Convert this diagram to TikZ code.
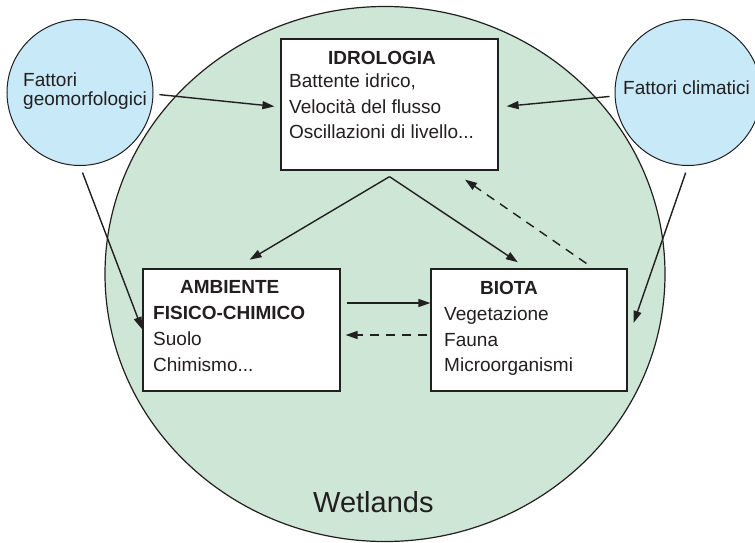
\documentclass[tikz,border=0pt]{standalone}
\usepackage{fontspec}
\setmainfont{Liberation Sans}
\usetikzlibrary{shapes.geometric,arrows.meta}
\definecolor{wet}{HTML}{CDE6D5}
\definecolor{fac}{HTML}{C7E9F8}
\definecolor{ink}{HTML}{231F20}
\begin{document}
\begin{tikzpicture}[x=1pt,y=-1pt,
  box/.style={draw=ink, fill=white, line width=1.3pt, inner sep=0pt},
  bubble/.style={circle, draw=ink, fill=fac, line width=1pt, minimum size=146pt, inner sep=0pt},
  txt/.style={font=\fontsize{19}{22}\selectfont, anchor=base west, inner sep=0pt, text=ink},
  ttl/.style={txt, font=\fontsize{19}{22}\selectfont\bfseries},
  arr/.style={draw=ink, line width=1.4pt, -{Triangle[length=12pt,width=8pt]}},
  dasharr/.style={arr, dash pattern=on 9pt off 7pt}]
\useasboundingbox (0,0) rectangle (755,543);
\clip (0,0) rectangle (755,543);

% big wetland ellipse
\node[ellipse, draw=ink, fill=wet, line width=1.2pt, minimum width=560pt, minimum height=535pt, inner sep=0pt] (wet) at (385,274) {};
\node[anchor=base west, inner sep=0pt, text=ink, font=\fontsize{29}{34}\selectfont] (wl) at (313,512) {Wetlands};

% factor circles
\node[bubble] (geo) at (80,92.5) {};
\node[txt] (geot1) at (23,86) {Fattori};
\node[txt] (geot2) at (23,106) {geomorfologici};
\node[bubble] (clim) at (688,92.5) {};
\node[txt] (climt) at (623,95) {Fattori climatici};

% boxes
\node[box, minimum width=217pt, minimum height=131pt] (idro) at (389.5,104.5) {};
\node[ttl] (idro0) at (328,64) {IDROLOGIA};
\node[txt] (idro1) at (289,88) {Battente idrico,};
\node[txt] (idro2) at (289,113) {Velocità del flusso};
\node[txt] (idro3) at (289,138) {Oscillazioni di livello...};

\node[box, minimum width=197pt, minimum height=122pt] (amb) at (241.5,330) {};
\node[ttl] (amb0) at (180,293) {AMBIENTE};
\node[ttl] (amb1) at (153,319) {FISICO-CHIMICO};
\node[txt] (amb2) at (153,345) {Suolo};
\node[txt] (amb3) at (153,371) {Chimismo...};

\node[box, minimum width=196pt, minimum height=122pt] (bio) at (529,330) {};
\node[ttl] (bio0) at (480,294) {BIOTA};
\node[txt] (bio1) at (444,320) {Vegetazione};
\node[txt] (bio2) at (444,346) {Fauna};
\node[txt] (bio3) at (444,371) {Microorganismi};

% connectors
\draw[arr, shorten <=6pt, shorten >=6pt] ([yshift=-1.5pt]geo.east) -- ([yshift=-2.5pt]idro.west);
\draw[arr, shorten <=5pt, shorten >=8pt] ([yshift=-3.5pt]clim.west) -- ([yshift=-2.5pt]idro.east);
\coordinate (apex) at ([yshift=-6pt]idro.south);
\draw[arr, shorten >=17pt] (apex) -- ([xshift=-6.5pt]amb.north);
\draw[arr, shorten >=11pt] (apex) -- ([xshift=-2pt]bio.north);
\draw[dasharr, shorten <=8.6pt, shorten >=15.8pt] ([xshift=64.5pt]bio.north) -- ([xshift=62.5pt]idro.south);
\draw[arr, shorten <=7pt, shorten >=1pt] (geo.south) -- (amb.west);
\draw[arr, shorten <=7pt, shorten >=7.5pt] (clim.south) -- ([xshift=3.5pt]bio.east);
\draw[arr, shorten <=6pt] ([yshift=27pt]amb.east) -- ([yshift=27pt]bio.west);
\draw[dasharr, shorten <=3pt, shorten >=5pt] ([yshift=-5pt]bio.west) -- ([yshift=-5pt]amb.east);
\end{tikzpicture}
\end{document}
